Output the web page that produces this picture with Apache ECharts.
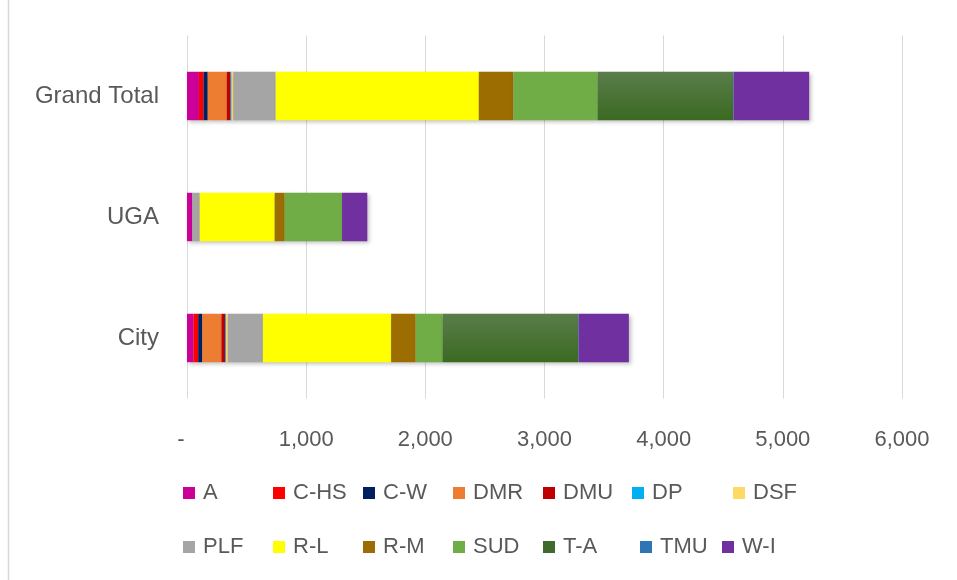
<!DOCTYPE html>
<html>
<head>
<meta charset="utf-8">
<script src="https://cdn.jsdelivr.net/npm/echarts@6/dist/echarts.min.js"></script>
<style>html,body{margin:0;padding:0;background:#fff;}#c{width:957px;height:580px;}</style>
</head>
<body>
<div id="c"></div>
<script>
const categories = ['City', 'UGA', 'Grand Total'];
const seriesNames = ['A', 'C-HS', 'C-W', 'DMR', 'DMU', 'DP', 'DSF', 'PLF', 'R-L', 'R-M', 'SUD', 'T-A', 'TMU', 'W-I'];
// values per series: [City, UGA, Grand Total]
const vA   = [55, 45, 100];
const vCHS = [39, 0, 39];
const vCW  = [35, 0, 35];
const vDMR = [160, 0, 160];
const vDMU = [32, 0, 32];
const vDP  = [8, 0, 8];
const vDSF = [14, 0, 14];
const vPLF = [294, 62, 356];
const vRL  = [1076, 629, 1705];
const vRM  = [206, 84, 290];
const vSUD = [225, 481, 706];
const vTA  = [1138, 0, 1138];
const vTMU = [5, 0, 5];
const vWI  = [421, 212, 633];
const xTicks = [0, 1000, 2000, 3000, 4000, 5000, 6000];

const values = [vA, vCHS, vCW, vDMR, vDMU, vDP, vDSF, vPLF, vRL, vRM, vSUD, vTA, vTMU, vWI];
const colors = ['#cc0099', '#ff0000', '#002060', '#ed7d31', '#c00000', '#00b0f0', '#ffd966',
  '#a5a5a5', '#ffff00', '#9c6d00', '#70ad47',
  new echarts.graphic.LinearGradient(0, 0, 0, 1, [{offset: 0, color: '#5a7d4a'}, {offset: 1, color: '#3b6a22'}]),
  '#2e75b6', '#7030a0'];
const legendColors = ['#cc0099', '#ff0000', '#002060', '#ed7d31', '#c00000', '#00b0f0', '#ffd966',
  '#a5a5a5', '#ffff00', '#9c6d00', '#70ad47', '#3f6a2c', '#2e75b6', '#7030a0'];

const FONT = 'Liberation Sans';
const legendPos = [
  [183, 493], [273, 493], [363, 493], [453, 493], [543, 493], [632, 493], [733, 493],
  [183, 547], [273, 547], [363, 547], [453, 547], [543, 547], [640, 547], [722, 547]
];

const legends = seriesNames.map((n, i) => ({
  data: [{name: n, itemStyle: {color: legendColors[i]}}],
  left: legendPos[i][0],
  top: legendPos[i][1] - 12,
  itemWidth: 12,
  itemHeight: 12,
  icon: 'rect',
  selectedMode: false,
  padding: 0,
  textStyle: {fontFamily: FONT, fontSize: 22, color: '#595959', lineHeight: 24, padding: [0, 0, 0, 3]}
}));

const chart = echarts.init(document.getElementById('c'), null, {renderer: 'canvas'});
chart.setOption({
  animation: false,
  backgroundColor: '#ffffff',
  graphic: [{type: 'line', shape: {x1: 8.5, y1: 0, x2: 8.5, y2: 580}, style: {stroke: '#d9d9d9', lineWidth: 1.5}}],
  legend: legends,
  grid: {left: 187, right: 55, top: 35.5, bottom: 181.5},
  xAxis: {
    type: 'value', min: 0, max: 6000, interval: 1000,
    axisLine: {show: false}, axisTick: {show: false},
    splitLine: {lineStyle: {color: '#d9d9d9', width: 1}},
    axisLabel: {
      fontFamily: FONT, fontSize: 22, color: '#595959', margin: 30,
      formatter: v => v === 0 ? '{z|-}' : v.toLocaleString('en-US'),
      rich: {z: {fontFamily: FONT, fontSize: 22, color: '#595959', padding: [0, 12, 0, 0]}}
    }
  },
  yAxis: {
    type: 'category', data: categories,
    axisLine: {show: false}, axisTick: {show: false},
    axisLabel: {fontFamily: FONT, fontSize: 24, color: '#595959', margin: 28}
  },
  series: seriesNames.map((n, i) => ({
    name: n, type: 'bar', stack: 'total', barWidth: '40%',
    data: values[i],
    itemStyle: {color: colors[i], shadowBlur: 4, shadowOffsetX: 2, shadowOffsetY: 2, shadowColor: 'rgba(0,0,0,0.25)'}
  }))
});
</script>
</body>
</html>
